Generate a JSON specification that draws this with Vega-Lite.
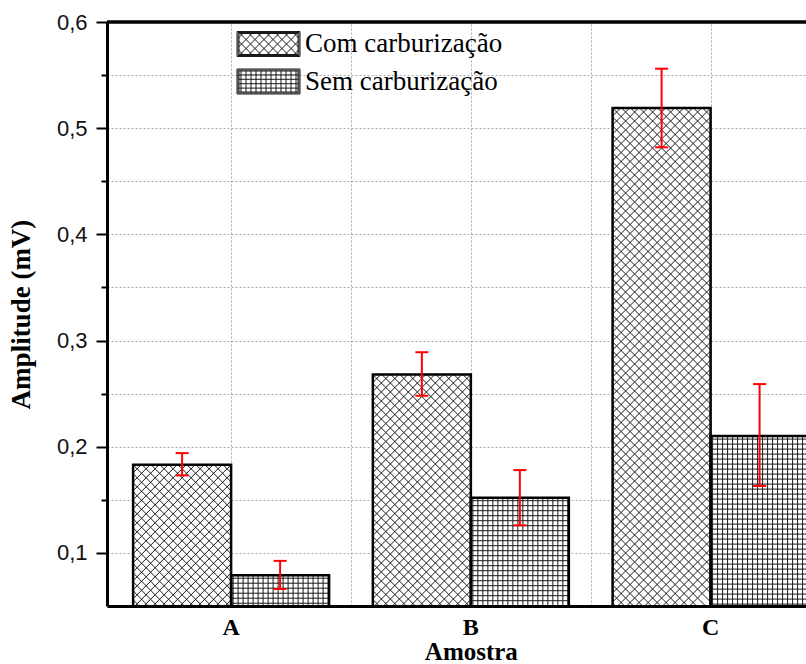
{
  "$schema": "https://vega.github.io/schema/vega-lite/v6.json",
  "width": 699,
  "height": 584,
  "autosize": {"type": "none"},
  "padding": {"left": 107, "top": 22, "right": 0, "bottom": 58},
  "background": "white",
  "config": {"view": {"stroke": null}},
  "datasets": {
    "bars": [
      {"Amostra": "A", "Serie": "Com carburização", "valor": 0.183, "lo": 0.173, "hi": 0.194},
      {"Amostra": "A", "Serie": "Sem carburização", "valor": 0.079, "lo": 0.066, "hi": 0.0925},
      {"Amostra": "B", "Serie": "Com carburização", "valor": 0.268, "lo": 0.248, "hi": 0.289},
      {"Amostra": "B", "Serie": "Sem carburização", "valor": 0.152, "lo": 0.126, "hi": 0.178},
      {"Amostra": "C", "Serie": "Com carburização", "valor": 0.519, "lo": 0.482, "hi": 0.556},
      {"Amostra": "C", "Serie": "Sem carburização", "valor": 0.210, "lo": 0.163, "hi": 0.259}
    ]
  },
  "layer": [
    {
      "data": {"name": "bars"},
      "encoding": {
        "x": {
          "field": "Amostra", "type": "nominal",
          "scale": {"domain": ["A", "B", "C"], "range": [0, 727.7], "paddingInner": 0.1825, "paddingOuter": 0.1089},
          "axis": {"orient": "bottom", "title": "Amostra", "labelAngle": 0, "ticks": false, "tickSize": 0, "labelPadding": 9,
            "labelFont": "Liberation Serif", "labelFontWeight": "bold", "labelFontSize": 24, "labelColor": "black",
            "domainColor": "black", "domainWidth": 3, "grid": false,
            "titleFont": "Liberation Serif", "titleFontWeight": "bold", "titleFontSize": 25, "titleColor": "black", "titlePadding": 0, "zindex": 1}
        },
        "xOffset": {"field": "Serie", "type": "nominal", "sort": ["Com carburização", "Sem carburização"], "scale": {"paddingInner": 0, "paddingOuter": 0}}
      },
      "layer": [
        {
          "mark": {"type": "bar", "fill": "white", "strokeWidth": 0, "clip": true},
          "encoding": {
            "y": {"field": "valor", "type": "quantitative",
              "scale": {"domain": [0.05, 0.6], "zero": false, "nice": false},
              "axis": {"orient": "left", "values": [0.1, 0.15, 0.2, 0.25, 0.3, 0.35, 0.4, 0.45, 0.5, 0.55, 0.6],
                "grid": true, "gridDash": [2, 2], "gridColor": "#aaaaaa", "gridWidth": 1,
                "domainColor": "black", "domainWidth": 3, "tickColor": "black", "tickWidth": 2,
                "tickSize": {"condition": {"test": "abs(datum.value * 10 - round(datum.value * 10)) < 0.001", "value": 11}, "value": 6},
                "labelExpr": "abs(datum.value * 10 - round(datum.value * 10)) < 0.001 ? replace(format(datum.value, '.1f'), '.', ',') : ''",
                "labelFont": "Liberation Sans", "labelFontSize": 22, "labelColor": "#111111", "labelPadding": 9,
                "title": "Amplitude (mV)", "titleFont": "Liberation Serif", "titleFontWeight": "bold", "titleFontSize": 27, "titleColor": "black", "titlePadding": 21}
            }
          }
        },
        {
          "transform": [{"filter": "datum.Serie === 'Com carburização'"}],
          "mark": {"type": "point", "size": 4, "filled": false, "stroke": "#1a1a1a", "strokeWidth": 1, "opacity": 1, "clip": true,
            "shape": "M-40 0l89 89M-31 0l80 80M-22 0l71 71M-13 0l62 62M-4 0l53 53M5 0l44 44M14 0l35 35M23 0l26 26M32 0l17 17M41 0l8 8M-49 0l98 98m-98 -89l98 98m-98 -89l98 98m-98 -89l98 98m-98 -89l98 98m-98 -89l98 98m-98 -89l98 98m-98 -89l98 98m-98 -89l98 98m-98 -89l98 98m-98 -89l98 98m-98 -89l98 98m-98 -89l98 98m-98 -89l98 98m-98 -89l98 98m-98 -89l98 98m-98 -89l98 98m-98 -89l98 98m-98 -89l98 98m-98 -89l98 98m-98 -89l98 98m-98 -89l98 98m-98 -89l98 98m-98 -89l98 98m-98 -89l98 98m-98 -89l98 98m-98 -89l98 98m-98 -89l98 98m-98 -89l98 98m-98 -89l98 98m-98 -89l98 98m-98 -89l98 98m-98 -89l98 98m-98 -89l98 98m-98 -89l98 98m-98 -89l98 98m-98 -89l98 98m-98 -89l98 98m-98 -89l98 98m-98 -89l98 98m-98 -89l98 98m-98 -89l98 98m-98 -89l98 98m-98 -89l98 98m-98 -89l98 98m-98 -89l98 98m-98 -89l98 98m-98 -89l98 98m-98 -89l98 98m-98 -89l98 98m-98 -89l98 98m-98 -89l98 98m-98 -89l98 98m-98 -89l98 98m-98 -89l98 98m-98 -89l98 98m-98 -89l98 98m-98 -89l98 98m-98 -89l98 98M40 0l-89 89M31 0l-80 80M22 0l-71 71M13 0l-62 62M4 0l-53 53M-5 0l-44 44M-14 0l-35 35M-23 0l-26 26M-32 0l-17 17M-41 0l-8 8M49 0l-98 98m98 -89l-98 98m98 -89l-98 98m98 -89l-98 98m98 -89l-98 98m98 -89l-98 98m98 -89l-98 98m98 -89l-98 98m98 -89l-98 98m98 -89l-98 98m98 -89l-98 98m98 -89l-98 98m98 -89l-98 98m98 -89l-98 98m98 -89l-98 98m98 -89l-98 98m98 -89l-98 98m98 -89l-98 98m98 -89l-98 98m98 -89l-98 98m98 -89l-98 98m98 -89l-98 98m98 -89l-98 98m98 -89l-98 98m98 -89l-98 98m98 -89l-98 98m98 -89l-98 98m98 -89l-98 98m98 -89l-98 98m98 -89l-98 98m98 -89l-98 98m98 -89l-98 98m98 -89l-98 98m98 -89l-98 98m98 -89l-98 98m98 -89l-98 98m98 -89l-98 98m98 -89l-98 98m98 -89l-98 98m98 -89l-98 98m98 -89l-98 98m98 -89l-98 98m98 -89l-98 98m98 -89l-98 98m98 -89l-98 98m98 -89l-98 98m98 -89l-98 98m98 -89l-98 98m98 -89l-98 98m98 -89l-98 98m98 -89l-98 98m98 -89l-98 98m98 -89l-98 98m98 -89l-98 98"},
          "encoding": {"y": {"field": "valor", "type": "quantitative"}}
        },
        {
          "transform": [{"filter": "datum.Serie === 'Sem carburização'"}],
          "mark": {"type": "point", "size": 4, "filled": false, "stroke": "#1a1a1a", "strokeWidth": 1, "opacity": 1, "clip": true,
            "shape": "M-47 0v210m5 -210v210m5 -210v210m5 -210v210m5 -210v210m5 -210v210m5 -210v210m5 -210v210m5 -210v210m5 -210v210m5 -210v210m5 -210v210m5 -210v210m5 -210v210m5 -210v210m5 -210v210m5 -210v210m5 -210v210m5 -210v210m5 -210v210M-49 3h98m-98 5h98m-98 5h98m-98 5h98m-98 5h98m-98 5h98m-98 5h98m-98 5h98m-98 5h98m-98 5h98m-98 5h98m-98 5h98m-98 5h98m-98 5h98m-98 5h98m-98 5h98m-98 5h98m-98 5h98m-98 5h98m-98 5h98m-98 5h98m-98 5h98m-98 5h98m-98 5h98m-98 5h98m-98 5h98m-98 5h98m-98 5h98m-98 5h98m-98 5h98m-98 5h98m-98 5h98m-98 5h98m-98 5h98m-98 5h98m-98 5h98m-98 5h98m-98 5h98m-98 5h98m-98 5h98m-98 5h98m-98 5h98"},
          "encoding": {"y": {"field": "valor", "type": "quantitative"}}
        },
        {
          "mark": {"type": "bar", "fillOpacity": 0, "stroke": "black", "strokeWidth": 2.5, "clip": true},
          "encoding": {"y": {"field": "valor", "type": "quantitative"}}
        },
        {
          "mark": {"type": "rule", "color": "#ff0000", "strokeWidth": 2},
          "encoding": {"y": {"field": "lo", "type": "quantitative"}, "y2": {"field": "hi"}}
        },
        {
          "mark": {"type": "tick", "color": "#ff0000", "size": 13, "thickness": 2, "opacity": 1},
          "encoding": {"y": {"field": "lo", "type": "quantitative"}}
        },
        {
          "mark": {"type": "tick", "color": "#ff0000", "size": 13, "thickness": 2, "opacity": 1},
          "encoding": {"y": {"field": "hi", "type": "quantitative"}}
        },
        {
          "mark": {"type": "point", "size": 4, "opacity": 0, "filled": false, "color": "#1a1a1a", "strokeWidth": 1},
          "encoding": {
            "y": {"field": "valor", "type": "quantitative"},
            "shape": {"field": "Serie", "type": "nominal",
              "scale": {"domain": ["Com carburização", "Sem carburização"],
                "range": [
                  "M-31.5 -12.5H31.5V12.5H-31.5ZM-30.5 -11.5H30.5V11.5H-30.5ZM-29.5 -10.5H29.5V10.5H-29.5ZM-11 -11L11 11M-20 -11L2 11M-29 -11L-7 11M-30 -3L-16 11M-30 6L-25 11M-2 -11L20 11M7 -11L29 11M16 -11L30 3M25 -11L30 -6M11 -11L-11 11M20 -11L-2 11M29 -11L7 11M30 -3L16 11M30 6L25 11M2 -11L-20 11M-7 -11L-29 11M-16 -11L-30 3M-25 -11L-30 -6",
                  "M-31.5 -12.5H31.5V12.5H-31.5ZM-30.5 -11.5H30.5V11.5H-30.5ZM-29.5 -10.5H29.5V10.5H-29.5ZM-27.5 -11V11M-22.5 -11V11M-17.5 -11V11M-12.5 -11V11M-7.5 -11V11M-2.5 -11V11M2.5 -11V11M7.5 -11V11M12.5 -11V11M17.5 -11V11M22.5 -11V11M27.5 -11V11M-30 -6.6H30M-30 -2.2H30M-30 2.2H30M-30 6.6H30"
                ]},
              "legend": {"title": null, "orient": "none", "legendX": 148, "legendY": 8.5, "padding": 0, "rowPadding": 8.5,
                "symbolSize": 4, "symbolOpacity": 1, "symbolFillColor": "transparent", "symbolStrokeColor": "#1a1a1a", "symbolStrokeWidth": 1,
                "labelFont": "Liberation Serif", "labelFontSize": 27, "labelColor": "black", "labelLimit": 500, "labelOffset": 23,
                "encode": {"symbols": {"update": {"stroke": {"value": "#1a1a1a"}, "fill": {"value": "transparent"}, "opacity": {"value": 1}, "strokeOpacity": {"value": 1}, "strokeWidth": {"value": 1}}}}}
            }
          }
        }
      ]
    },
    {
      "data": {"values": [{"k": 1}]},
      "mark": {"type": "rule", "color": "black", "strokeWidth": 3.5},
      "encoding": {
        "x": {"datum": 0.4824, "type": "quantitative",
          "scale": {"domain": [0.4824, 3.398], "nice": false, "zero": false},
          "axis": {"orient": "top", "values": [1, 1.5, 2, 2.5, 3], "grid": true, "gridDash": [2, 2], "gridColor": "#aaaaaa", "gridWidth": 1,
            "labels": false, "ticks": false, "domain": false, "title": null}},
        "x2": {"datum": 3.398},
        "y": {"datum": 0.6, "type": "quantitative"}
      }
    }
  ],
  "resolve": {"scale": {"x": "independent"}, "axis": {"x": "independent"}}
}
